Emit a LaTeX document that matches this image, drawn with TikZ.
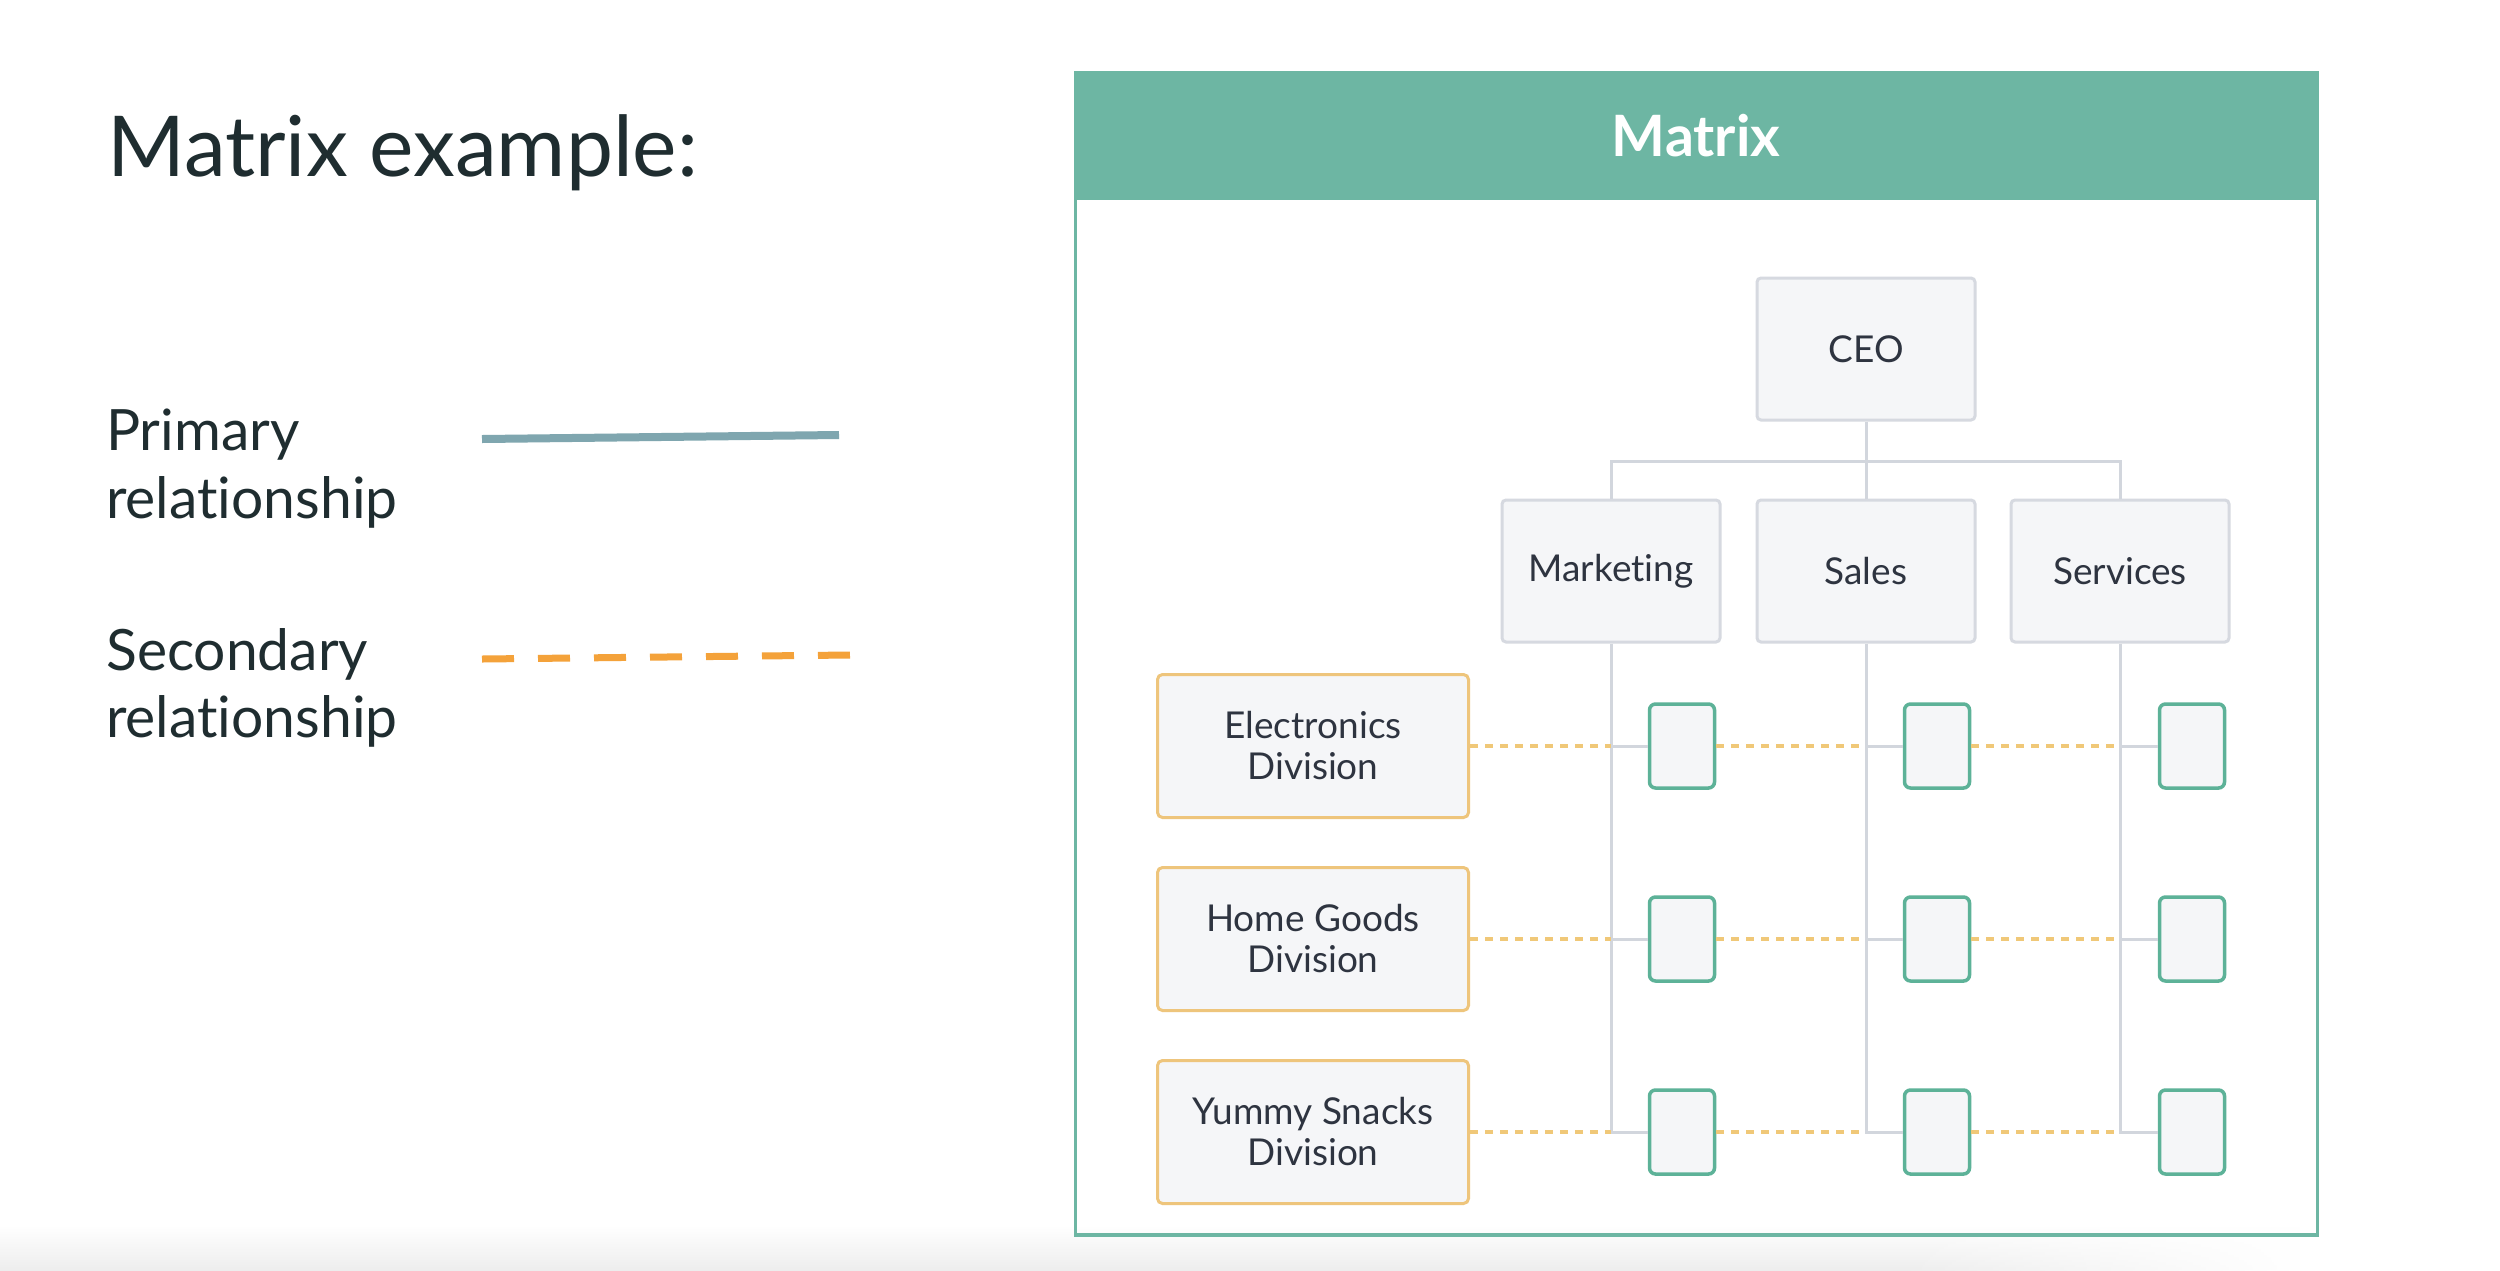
\documentclass[tikz,border=0pt]{standalone}
\usepackage{fontspec}
\setmainfont{Lato}[Ligatures=NoCommon]
\usetikzlibrary{calc,fadings}
\definecolor{ink}{HTML}{1F2D30}
\definecolor{boxink}{HTML}{2E3440}
\definecolor{teal}{HTML}{6DB6A3}
\definecolor{tealbox}{HTML}{5DB298}
\definecolor{gbord}{HTML}{D6D9E0}
\definecolor{gline}{HTML}{D2D6DD}
\definecolor{gold}{HTML}{EEC57C}
\definecolor{dotor}{HTML}{F0C878}
\definecolor{boxfill}{HTML}{F5F6F8}
\definecolor{prim}{HTML}{7FA6AF}
\definecolor{secd}{HTML}{F4A23A}
\tikzset{
  lbl/.style={anchor=base west, inner sep=0pt, text=ink, font=\fontsize{57}{66}\selectfont},
  rolebox/.style={draw=gbord, line width=3pt, fill=boxfill, rounded corners=4pt,
    minimum width=218pt, minimum height=142pt, inner sep=0pt, text=boxink,
    font=\fontsize{37}{41}\selectfont},
  divbox/.style={draw=gold, line width=3pt, fill=boxfill, rounded corners=5pt,
    minimum width=311pt, minimum height=143pt, inner sep=0pt, text=boxink, align=center,
    font=\fontsize{37}{41}\selectfont},
  cell/.style={draw=tealbox, line width=3.5pt, fill=boxfill, rounded corners=6pt,
    minimum width=65pt, minimum height=84pt, inner sep=0pt},
  primline/.style={draw=gline, line width=3pt},
  secline/.style={draw=dotor, line width=3.5pt, dash pattern=on 8pt off 7pt},
}
\begin{document}
\begin{tikzpicture}[x=1pt,y=-1pt]
\useasboundingbox (0,0) rectangle (2500,1270);
\fill[white] (0,0) rectangle (2500,1270);
\shade[top color=white, bottom color=black!7] (0,1225) rectangle (1900,1270);
\shade[top color=white, bottom color=black!7, path fading=east] (1899,1225) rectangle (2300,1270);
% left legend
\node[lbl, font=\fontsize{84}{100}\selectfont] (title) at (107,176) {Matrix example:};
\node[lbl] (p1) at (106,450) {Primary};
\node[lbl] (p2) at (106,518) {relationship};
\node[lbl] (s1) at (106,670) {Secondary};
\node[lbl] (s2) at (106,737) {relationship};
\coordinate (pa) at (482,439); \coordinate (pb) at (839,435);
\draw[prim, line width=8pt] (pa) -- (pb);
\coordinate (sa) at (482,659); \coordinate (sb) at (850,655);
\draw[secd, line width=7pt, dash pattern=on 32pt off 24pt] (sa) -- (sb);
% panel
\fill[teal] (1075,72) rectangle (2317,200);
\draw[teal, line width=3pt] (1075,72) rectangle (2317,1235);
\draw[teal, line width=4.5pt] (1075,1235) -- (2317,1235);
\node[text=white, font=\bfseries\fontsize{57}{64}\selectfont] (mx) at (1696,136) {Matrix};
% roles
\node[rolebox] (ceo) at (1866,349) {CEO};
\node[rolebox] (mkt) at (1611,571) {Marketing};
\node[rolebox] (sal) at (1866,571) {Sales};
\node[rolebox] (svc) at (2120,571) {Services};
\coordinate (bus) at (1866,461);
\draw[primline] (ceo.south) -- (sal.north);
\draw[primline] (mkt.north) |- (bus) -| (svc.north);
% divisions
\node[divbox] (d1) at (1313,746) {Electronics\\Division};
\node[divbox] (d2) at (1313,939) {Home Goods\\Division};
\node[divbox] (d3) at (1313,1132) {Yummy Snacks\\Division};
% cells
\foreach \r/\y in {1/746,2/939,3/1132}{
  \node[cell] (a\r) at (1682,\y) {};
  \node[cell] (b\r) at (1937,\y) {};
  \node[cell] (c\r) at (2192,\y) {};
}
% verticals
\draw[primline] (mkt.south) |- (a3.west);
\draw[primline] (sal.south) |- (b3.west);
\draw[primline] (svc.south) |- (c3.west);
\foreach \r in {1,2}{
  \draw[primline] (a\r.west) -- (a\r.west -| mkt.south);
  \draw[primline] (b\r.west) -- (b\r.west -| sal.south);
  \draw[primline] (c\r.west) -- (c\r.west -| svc.south);
}
\foreach \r in {1,2,3}{
  \draw[secline] (d\r.east) -- (d\r.east -| mkt.south);
  \draw[secline] (a\r.east) -- (a\r.east -| sal.south);
  \draw[secline] (b\r.east) -- (b\r.east -| svc.south);
}
\end{tikzpicture}
\end{document}
